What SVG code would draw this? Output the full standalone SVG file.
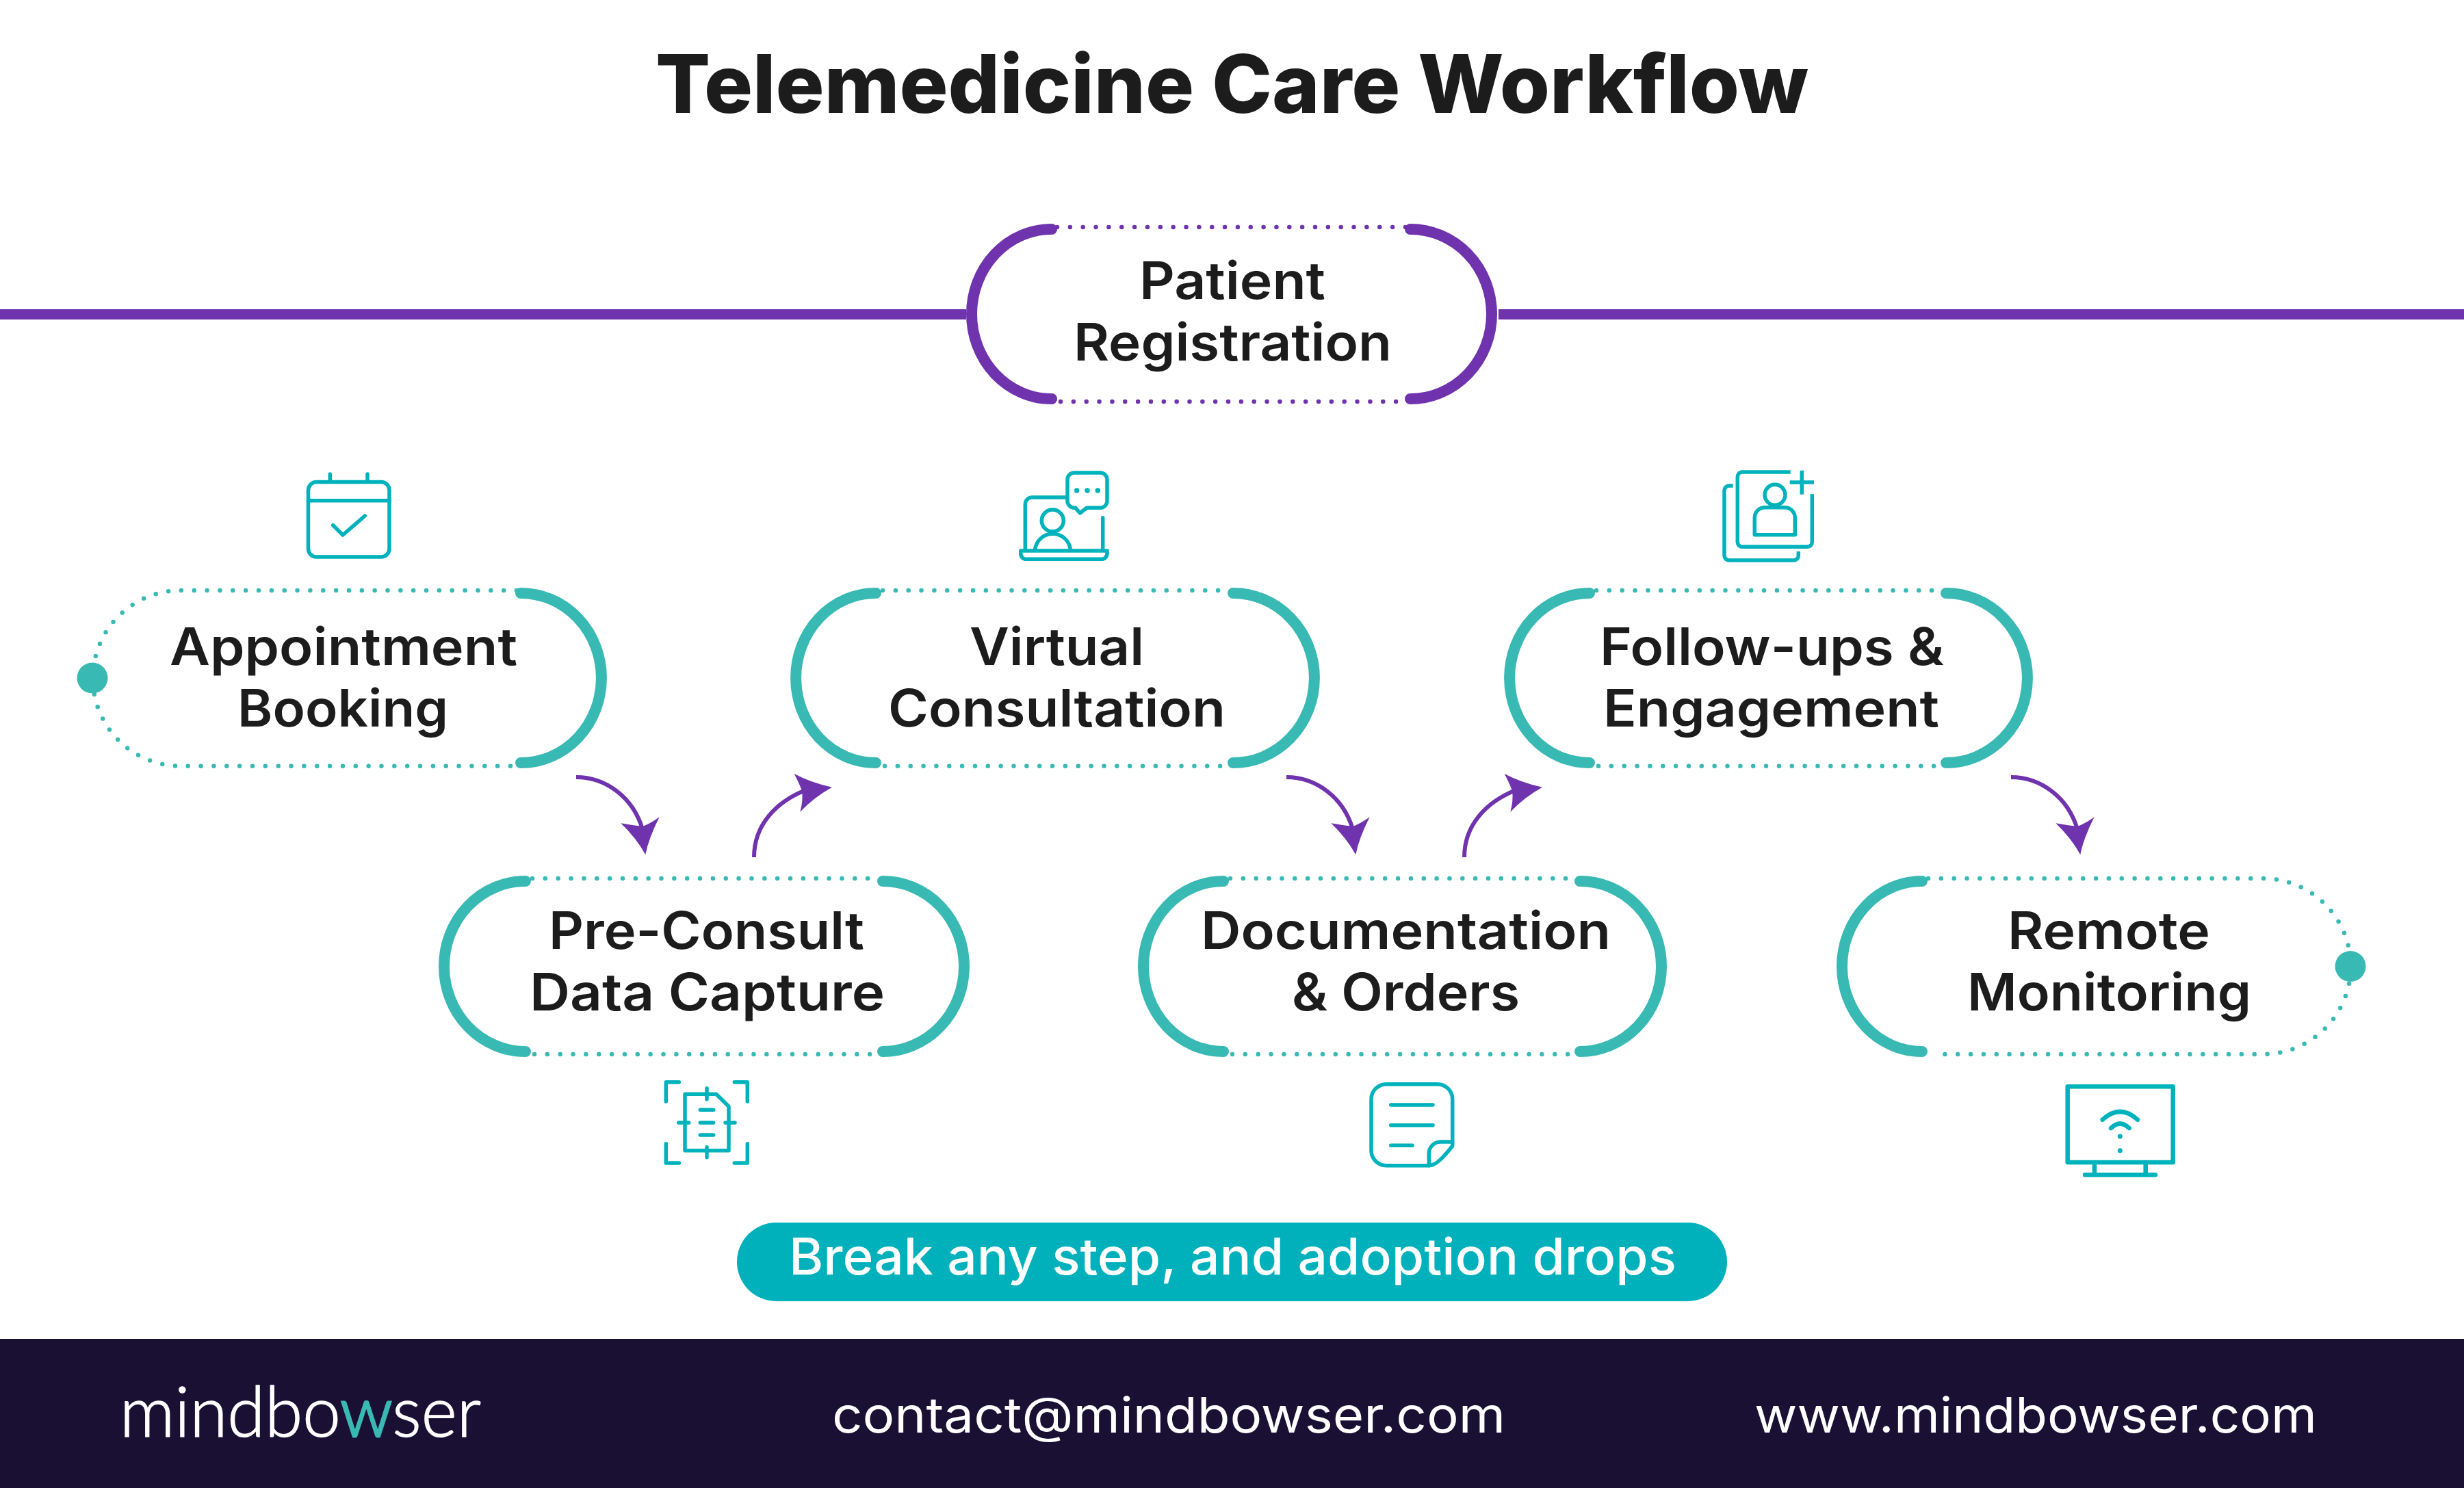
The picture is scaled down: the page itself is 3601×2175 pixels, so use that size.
<svg xmlns="http://www.w3.org/2000/svg" width="3601" height="2175" viewBox="0 0 3601 2175">
<style>
text{font-family:"Inter","Liberation Sans",sans-serif}
.lbl{font-size:75px;font-weight:600;fill:#1c1c1c}
.arc{fill:none;stroke-width:16;stroke-linecap:round}
.dot{fill:none;stroke-width:6.5;stroke-linecap:round;stroke-dasharray:0 18.85}
.t .arc{stroke:#39b9b3}.t .dot{stroke:#39b9b3}.t>circle{fill:#39b9b3}
.p .arc{stroke:#7033ae}.p .dot{stroke:#7033ae}
.ic{fill:none;stroke:#00b2bb;stroke-width:5.5;stroke-linecap:round;stroke-linejoin:round}
.icf{fill:#00b2bb}
.aline{fill:none;stroke:#7033ae;stroke-width:6}
.ahead{fill:#7033ae}
.foot{font-size:72px;font-weight:400;fill:#fff}
</style>
<defs>
<g id="arrowDown"><path class="aline" d="M842,1136C885,1136 925,1165 939,1212"/><path class="ahead" d="M907.3,1203.3Q922,1206 939,1208Q950,1204 963.7,1194.3Q948,1225 943.3,1249.3Q930,1225 907.3,1203.3Z"/></g>
<g id="arrowUp"><path class="aline" d="M1102,1253C1102,1205 1135,1172 1177,1155"/><path class="ahead" d="M1160.7,1131Q1185,1144 1216,1150.7Q1190,1165 1169.3,1186.7Q1174,1170 1172,1156Q1168,1145 1160.7,1131Z"/></g>
</defs>
<rect width="3601" height="2175" fill="#fff"/>
<text x="958" y="165" font-size="118" font-weight="800" fill="#1c1c1c" textLength="1685" lengthAdjust="spacingAndGlyphs">Telemedicine Care Workflow</text>

<g id="connectors">
<rect x="0" y="452" width="1412" height="15" fill="#7033ae"/>
<rect x="2190" y="452" width="1411" height="15" fill="#7033ae"/>
<use href="#arrowDown"/>
<use href="#arrowUp"/>
<use href="#arrowDown" x="1038"/>
<use href="#arrowUp" x="1038"/>
<use href="#arrowDown" x="2097"/>
</g>

<g id="node-patient-registration" class="p">
<path class="arc" d="M1537,335A117,124 0 0 0 1537,583"/>
<path class="arc" d="M2061,335A119,124 0 0 1 2061,583"/>
<path class="dot" d="M1545,332H2055"/>
<path class="dot" d="M1550,587H2055"/>
<text class="lbl" x="1665" y="436.7" textLength="272" lengthAdjust="spacingAndGlyphs">Patient</text>
<text class="lbl" x="1569" y="526.7" textLength="465" lengthAdjust="spacingAndGlyphs">Registration</text>
</g>

<g id="node-appointment-booking" class="t">
<path class="dot" d="M755,863H264A128,128 0 0 0 264,1119.7H755"/>
<path class="arc" d="M761,867A118,124 0 0 1 761,1115"/>
<circle cx="135" cy="991" r="22.5"/>
<text class="lbl" x="248" y="971.6" textLength="508" lengthAdjust="spacingAndGlyphs">Appointment</text>
<text class="lbl" x="347" y="1061.5" textLength="308" lengthAdjust="spacingAndGlyphs">Booking</text>
<g id="icon-calendar">
<rect class="ic" x="450.5" y="704.5" width="118.5" height="109.5" rx="12"/>
<path class="ic" d="M450.5,731.7H569M482.3,693V704M537,693V704M486.7,767.7L501,782L533.3,754"/>
</g>
</g>

<g id="node-virtual-consultation" class="t">
<path class="arc" d="M1280,867A117,124 0 0 0 1280,1115"/>
<path class="arc" d="M1802,867A119,124 0 0 1 1802,1115"/>
<path class="dot" d="M1290,863H1795"/>
<path class="dot" d="M1293,1119.7H1798"/>
<text class="lbl" x="1417" y="971.6" textLength="255" lengthAdjust="spacingAndGlyphs">Virtual</text>
<text class="lbl" x="1298" y="1061.5" textLength="493" lengthAdjust="spacingAndGlyphs">Consultation</text>
<g id="icon-consult">
<path class="ic" d="M1498.3,803V737a10,10 0 0 1 10,-10H1560M1611.7,756.7V803"/>
<path class="ic" d="M1570,691H1608a10,10 0 0 1 10,10V732.3a10,10 0 0 1 -10,10H1588.3L1578.3,750L1571.7,742.3H1570a10,10 0 0 1 -10,-10V701a10,10 0 0 1 10,-10Z"/>
<circle class="icf" cx="1573.7" cy="717" r="3.7"/><circle class="icf" cx="1589" cy="717" r="3.7"/><circle class="icf" cx="1604.3" cy="717" r="3.7"/>
<circle class="ic" cx="1538.3" cy="761" r="16"/>
<path class="ic" d="M1512.7,803A26,26 0 0 1 1564.3,803"/>
<path class="ic" d="M1491.7,805H1618V809.3a8,8 0 0 1 -8,8H1499.7a8,8 0 0 1 -8,-8Z"/>
</g>
</g>

<g id="node-follow-ups" class="t">
<path class="arc" d="M2323,867A117,124 0 0 0 2323,1115"/>
<path class="arc" d="M2844,867A119,124 0 0 1 2844,1115"/>
<path class="dot" d="M2333,863H2838"/>
<path class="dot" d="M2336,1119.7H2841"/>
<text class="lbl" x="2338" y="971.6" textLength="503" lengthAdjust="spacingAndGlyphs">Follow-ups &amp;</text>
<text class="lbl" x="2343" y="1061.5" textLength="491" lengthAdjust="spacingAndGlyphs">Engagement</text>
<g id="icon-contacts">
<path class="ic" style="stroke-linecap:butt" d="M2532.7,710H2527a7,7 0 0 0 -7,7V812a7,7 0 0 0 7,7H2621.3a7,7 0 0 0 7,-7V806"/>
<path class="ic" style="stroke-linecap:butt" d="M2616.7,690H2546.3a7,7 0 0 0 -7,7V792.3a7,7 0 0 0 7,7H2641.3a7,7 0 0 0 7,-7V722.3"/>
<path class="ic" style="stroke-linecap:butt" d="M2615.7,705H2651M2633.3,687.7V722.7"/>
<circle class="ic" cx="2594" cy="723.3" r="15"/>
<path class="ic" d="M2564.3,781.7V756.7a15,15 0 0 1 15,-15H2608.3a15,15 0 0 1 15,15V781.7Z"/>
</g>
</g>

<g id="node-pre-consult" class="t">
<path class="arc" d="M768,1288A119,124.5 0 0 0 768,1537"/>
<path class="arc" d="M1290,1288A119,124.5 0 0 1 1290,1537"/>
<path class="dot" d="M778,1284H1283"/>
<path class="dot" d="M781,1541H1286"/>
<text class="lbl" x="802" y="1386.7" textLength="461" lengthAdjust="spacingAndGlyphs">Pre-Consult</text>
<text class="lbl" x="774" y="1476.7" textLength="519" lengthAdjust="spacingAndGlyphs">Data Capture</text>
<g id="icon-scan">
<path class="ic" d="M973.3,1610V1581.7H992.3M1073.3,1581.7H1092.3V1610M973.3,1671.7V1700H992.3M1073.3,1700H1092.3V1671.7"/>
<path class="ic" d="M1001,1599.3H1046.7L1065,1617.3V1681.7H1001Z"/>
<path class="ic" d="M1023.3,1622.3H1042.7M1023.3,1641H1042.7M1023.3,1659H1042.7M1033,1590.7V1606.7M1033,1676.7V1691.7M991.7,1641H1006.7M1060,1641H1074"/>
</g>
</g>

<g id="node-documentation" class="t">
<path class="arc" d="M1788,1288A117,124.5 0 0 0 1788,1537"/>
<path class="arc" d="M2309,1288A119,124.5 0 0 1 2309,1537"/>
<path class="dot" d="M1798,1284H2303"/>
<path class="dot" d="M1801,1541H2306"/>
<text class="lbl" x="1755" y="1386.7" textLength="599" lengthAdjust="spacingAndGlyphs">Documentation</text>
<text class="lbl" x="1888" y="1476.7" textLength="333" lengthAdjust="spacingAndGlyphs">&amp; Orders</text>
<g id="icon-note">
<path class="ic" d="M2026,1584.7H2100.7a22,22 0 0 1 22,22V1675C2113,1688 2101,1700 2095,1702Q2092,1703.7 2085,1703.7H2026a22,22 0 0 1 -22,-22V1606.7a22,22 0 0 1 22,-22Z"/>
<path class="ic" d="M2122.7,1669H2105A17,17 0 0 0 2088.3,1686V1703.7"/>
<path class="ic" d="M2032.7,1615H2094M2032.7,1644.7H2094M2032.7,1674.3H2064"/>
</g>
</g>

<g id="node-remote-monitoring" class="t">
<path class="arc" d="M2809,1288A117,124.5 0 0 0 2809,1537"/>
<path class="dot" d="M2818,1284H3307A128.5,128.5 0 0 1 3307,1541H2824"/>
<circle cx="3435" cy="1412.5" r="22.5"/>
<text class="lbl" x="2934" y="1386.7" textLength="296" lengthAdjust="spacingAndGlyphs">Remote</text>
<text class="lbl" x="2875" y="1476.7" textLength="415" lengthAdjust="spacingAndGlyphs">Monitoring</text>
<g id="icon-monitor">
<rect class="ic" style="stroke-width:6.5" x="3021.7" y="1588.3" width="154" height="110.7"/>
<path class="ic" style="stroke-width:6.5" d="M3061,1702V1716M3135.7,1702V1716M3047,1717.3H3150"/>
<path class="ic" style="stroke-width:6.5" d="M3072.7,1636.7Q3098.3,1613 3124,1636.7M3085,1649Q3098.3,1636 3111.7,1649"/>
<circle class="icf" cx="3098.3" cy="1661" r="3.5"/><circle class="icf" cx="3098.3" cy="1681.7" r="3.5"/>
</g>
</g>

<g id="node-callout">
<rect x="1077" y="1787" width="1447" height="115" rx="57.5" fill="#00b0bb"/>
<text x="1153" y="1863" font-size="74" font-weight="500" fill="#fff" textLength="1297" lengthAdjust="spacingAndGlyphs">Break any step, and adoption drops</text>
</g>

<g id="footer">
<rect x="0" y="1957" width="3601" height="218" fill="#1a1033"/>
<text x="175" y="2100" font-size="102" fill="#fff" stroke="#fff" stroke-width="1.5" style="font-family:Lato,'Liberation Sans',sans-serif;font-weight:300" textLength="528" lengthAdjust="spacingAndGlyphs">mindbo<tspan fill="#39b9b3" stroke="#39b9b3" stroke-width="3">w</tspan>ser</text>
<text class="foot" x="1216" y="2094" textLength="984" lengthAdjust="spacingAndGlyphs">contact@mindbowser.com</text>
<text class="foot" x="2564" y="2094" textLength="822" lengthAdjust="spacingAndGlyphs">www.mindbowser.com</text>
</g>
</svg>
